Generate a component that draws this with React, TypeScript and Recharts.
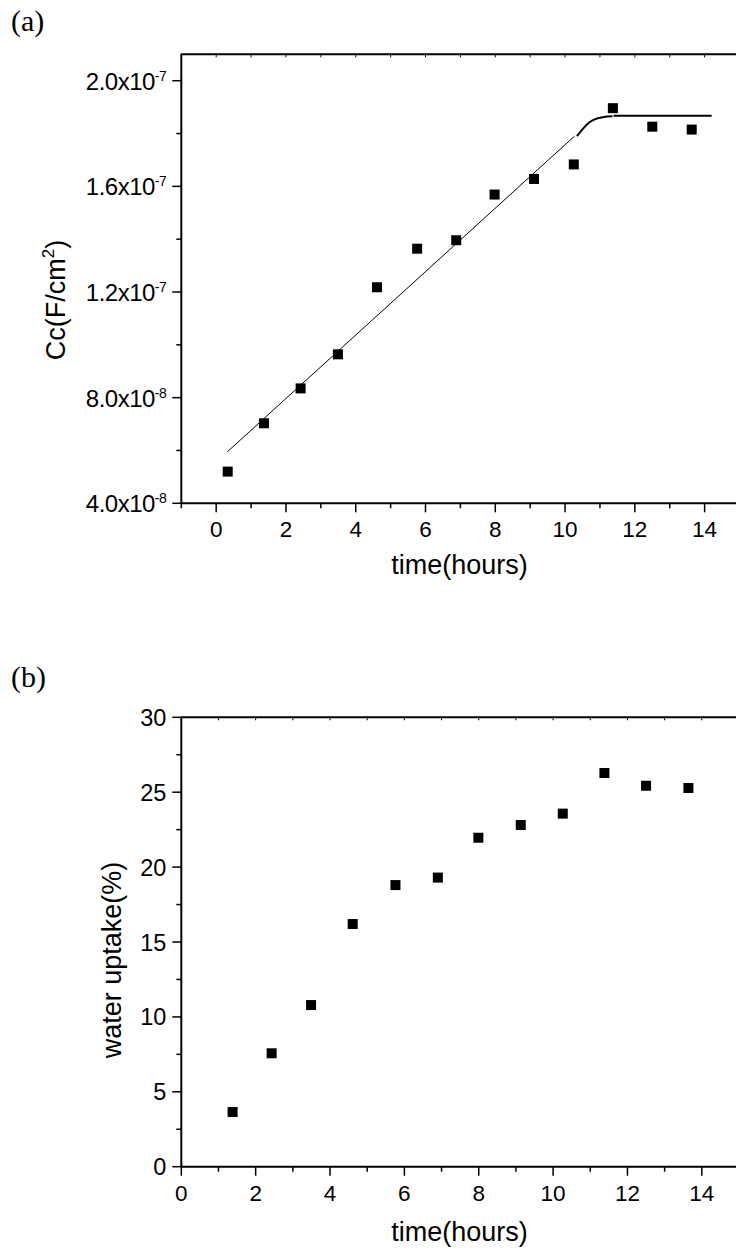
import React from 'react';
import { ComposedChart, XAxis, YAxis, Scatter, Line } from 'recharts';

// ---------- Data: panel (a) ----------
const TIME_A = [0.33, 1.37, 2.42, 3.49, 4.61, 5.76, 6.88, 7.98, 9.11, 10.25, 11.37, 12.5, 13.63];
const CC_A = [5.2e-8, 7.03e-8, 8.35e-8, 9.64e-8, 1.218e-7, 1.364e-7, 1.396e-7, 1.569e-7, 1.628e-7, 1.683e-7, 1.896e-7, 1.826e-7, 1.815e-7];
const FIT_X = [0.32, 10.27];
const FIT_Y = [5.95e-8, 1.79e-7];
const CURVE_X = [10.34, 10.7, 11.08, 11.36];
const CURVE_Y = [1.79e-7, 1.843e-7, 1.862e-7, 1.865e-7];
const PLATEAU_X = [11.39, 14.2];
const PLATEAU_Y = [1.867e-7, 1.867e-7];
const A_X_TICKS = [-1, 0, 1, 2, 3, 4, 5, 6, 7, 8, 9, 10, 11, 12, 13, 14, 15];
const A_Y_TICKS = [4e-8, 6e-8, 8e-8, 1e-7, 1.2e-7, 1.4e-7, 1.6e-7, 1.8e-7, 2e-7];

// ---------- Data: panel (b) ----------
const TIME_B = [1.38, 2.43, 3.49, 4.61, 5.76, 6.9, 7.99, 9.13, 10.26, 11.38, 12.5, 13.64];
const UPTAKE_B = [3.65, 7.57, 10.79, 16.2, 18.8, 19.3, 21.96, 22.81, 23.57, 26.28, 25.43, 25.28];
const B_X_TICKS = [0, 1, 2, 3, 4, 5, 6, 7, 8, 9, 10, 11, 12, 13, 14, 15];
const B_Y_TICKS = [0, 2.5, 5, 7.5, 10, 12.5, 15, 17.5, 20, 22.5, 25, 27.5, 30];

const zip = (xs: number[], ys: number[]) => xs.map((x, i) => ({ x, y: ys[i] }));

const scatterA = zip(TIME_A, CC_A);
const fitA = zip(FIT_X, FIT_Y);
const curveA = zip(CURVE_X, CURVE_Y);
const plateauA = zip(PLATEAU_X, PLATEAU_Y);
const scatterB = zip(TIME_B, UPTAKE_B);

const SANS = '"Liberation Sans", Arial, Helvetica, sans-serif';
const SERIF = '"Liberation Serif", "Times New Roman", serif';

const Square = (props: any) => {
  const { cx, cy } = props;
  if (cx == null || cy == null) return null;
  return <rect x={cx - 5} y={cy - 5} width={10} height={10} fill="#000" />;
};

const BottomTick = (props: any) => {
  const { x, y, payload } = props;
  const v = payload.value as number;
  const major = v >= 0 && Math.round(v) % 2 === 0;
  return (
    <g>
      <line x1={x} y1={y} x2={x} y2={y + (major ? 9 : 5)} stroke="#000" strokeWidth={1.5} />
      {major && (
        <text x={x} y={y + 34} textAnchor="middle" fontSize={22.5} fontFamily={SANS} fill="#000">
          {String(v)}
        </text>
      )}
    </g>
  );
};

const TopTick = (props: any) => {
  const { x, y } = props;
  return <line x1={x} y1={y - 1} x2={x} y2={y + 3} stroke="#000" strokeWidth={1} />;
};

const LeftTickA = (props: any) => {
  const { x, y, payload } = props;
  const v = payload.value as number;
  const n = Math.round(v * 1e8);
  const major = n % 4 === 0;
  let mant = '';
  let exp = '';
  if (v >= 1e-7 - 1e-12) {
    mant = (v / 1e-7).toFixed(1);
    exp = '-7';
  } else {
    mant = (v / 1e-8).toFixed(1);
    exp = '-8';
  }
  return (
    <g>
      <line x1={x - (major ? 9 : 5)} y1={y} x2={x} y2={y} stroke="#000" strokeWidth={1.5} />
      {major && (
        <text x={x - 15} y={y + 9} textAnchor="end" fontSize={24} fontFamily={SANS} fill="#000" letterSpacing={-0.5}>
          {mant + 'x10'}
          <tspan dy={-9} fontSize={14}>{exp}</tspan>
        </text>
      )}
    </g>
  );
};

const LeftTickB = (props: any) => {
  const { x, y, payload } = props;
  const v = payload.value as number;
  const major = v % 5 === 0;
  return (
    <g>
      <line x1={x - (major ? 9 : 5)} y1={y} x2={x} y2={y} stroke="#000" strokeWidth={1.5} />
      {major && (
        <text x={x - 15} y={y + 8.5} textAnchor="end" fontSize={23.5} fontFamily={SANS} fill="#000">
          {String(v)}
        </text>
      )}
    </g>
  );
};

const axisLine = { stroke: '#000', strokeWidth: 2 };

const PanelA = () => (
  <ComposedChart
    width={760}
    height={600}
    margin={{ top: 53.3, left: 180.3, right: 20.5, bottom: 95.7 }}
  >
    <XAxis
      xAxisId="b"
      dataKey="x"
      type="number"
      domain={[-1, 15]}
      allowDataOverflow
      ticks={A_X_TICKS}
      interval={0}
      height={1}
      tickSize={0}
      tickMargin={0}
      tickLine={false}
      axisLine={axisLine}
      tick={<BottomTick />}
    />
    <XAxis
      xAxisId="t"
      orientation="top"
      dataKey="x"
      type="number"
      domain={[-1, 15]}
      allowDataOverflow
      ticks={A_X_TICKS}
      interval={0}
      height={1}
      tickSize={0}
      tickMargin={0}
      tickLine={false}
      axisLine={axisLine}
      tick={<TopTick />}
    />
    <YAxis
      type="number"
      domain={[4e-8, 2.1e-7]}
      allowDataOverflow
      ticks={A_Y_TICKS}
      interval={0}
      width={1}
      tickSize={0}
      tickMargin={0}
      tickLine={false}
      axisLine={axisLine}
      tick={<LeftTickA />}
    />
    <Line xAxisId="b" data={fitA} dataKey="y" type="linear" stroke="#000" strokeWidth={1} dot={false} isAnimationActive={false} />
    <Line xAxisId="b" data={curveA} dataKey="y" type="monotone" stroke="#000" strokeWidth={2} dot={false} isAnimationActive={false} />
    <Line xAxisId="b" data={plateauA} dataKey="y" type="linear" stroke="#000" strokeWidth={2} dot={false} isAnimationActive={false} />
    <Scatter xAxisId="b" data={scatterA} dataKey="y" shape={<Square />} isAnimationActive={false} />
  </ComposedChart>
);

const PanelB = () => (
  <ComposedChart
    width={760}
    height={629}
    margin={{ top: 96.3, left: 180.3, right: 21, bottom: 81.3 }}
  >
    <XAxis
      xAxisId="b"
      dataKey="x"
      type="number"
      domain={[0, 15]}
      allowDataOverflow
      ticks={B_X_TICKS}
      interval={0}
      height={1}
      tickSize={0}
      tickMargin={0}
      tickLine={false}
      axisLine={axisLine}
      tick={<BottomTick />}
    />
    <XAxis
      xAxisId="t"
      orientation="top"
      dataKey="x"
      type="number"
      domain={[0, 15]}
      allowDataOverflow
      ticks={B_X_TICKS}
      interval={0}
      height={1}
      tickSize={0}
      tickMargin={0}
      tickLine={false}
      axisLine={axisLine}
      tick={<TopTick />}
    />
    <YAxis
      type="number"
      domain={[0, 30]}
      allowDataOverflow
      ticks={B_Y_TICKS}
      interval={0}
      width={1}
      tickSize={0}
      tickMargin={0}
      tickLine={false}
      axisLine={axisLine}
      tick={<LeftTickB />}
    />
    <Scatter xAxisId="b" data={scatterB} dataKey="y" shape={<Square />} isAnimationActive={false} />
  </ComposedChart>
);

const abs = (left: number, top: number): React.CSSProperties => ({ position: 'absolute', left, top });

const titleStyle: React.CSSProperties = {
  fontFamily: SANS,
  fontSize: 27,
  lineHeight: 1,
  whiteSpace: 'nowrap',
  color: '#000',
};

export default function App() {
  return (
    <div style={{ position: 'absolute', left: 0, top: 0, width: 736, height: 1249, overflow: 'hidden', background: '#fff' }}>
      <div style={abs(0, 0)}>
        <PanelA />
      </div>
      <div style={abs(0, 620)}>
        <PanelB />
      </div>

      <div style={{ ...abs(11, 5.5), fontFamily: SERIF, fontSize: 30, lineHeight: 1, color: '#000' }}>(a)</div>
      <div style={{ ...abs(11, 662), fontFamily: SERIF, fontSize: 30, lineHeight: 1, color: '#000' }}>(b)</div>

      <div style={{ ...abs(56, 300), ...titleStyle, transform: 'translate(-50%, -50%) rotate(-90deg)' }}>
        Cc(F/cm<span style={{ fontSize: 17, position: 'relative', top: -11 }}>2</span>)
      </div>
      <div style={{ ...abs(112, 960), ...titleStyle, transform: 'translate(-50%, -50%) rotate(-90deg)' }}>
        water uptake(%)
      </div>

      <div style={{ ...abs(459.5, 552), ...titleStyle, transform: 'translateX(-50%)' }}>time(hours)</div>
      <div style={{ ...abs(459.5, 1218.5), ...titleStyle, transform: 'translateX(-50%)' }}>time(hours)</div>
    </div>
  );
}
